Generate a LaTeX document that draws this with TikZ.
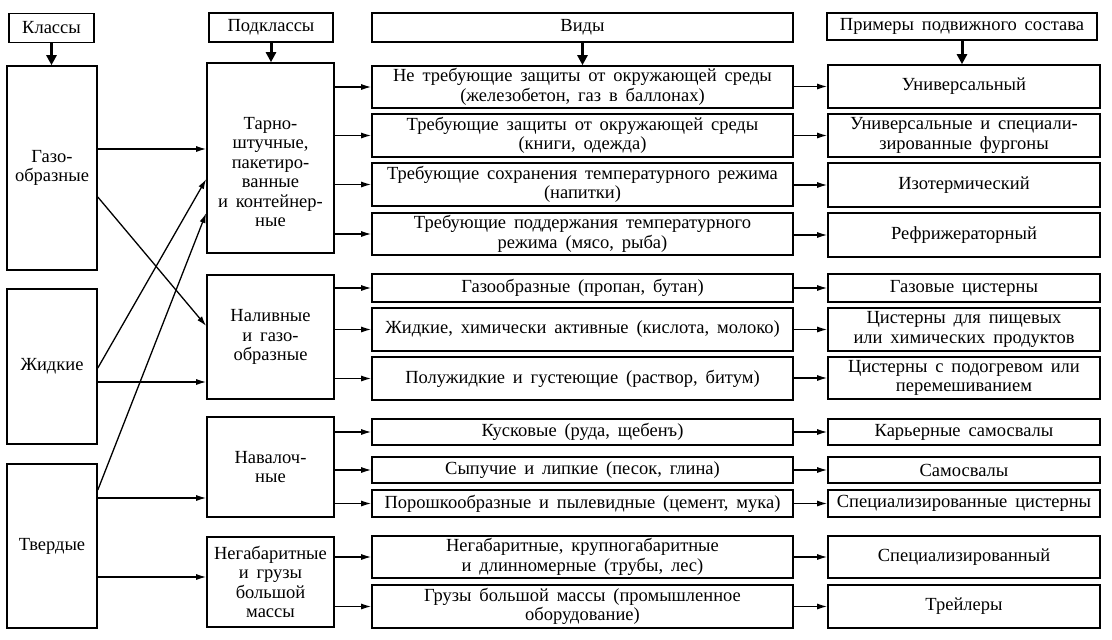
\documentclass[tikz,border=0pt]{standalone}
\usepackage{fontspec}
\setmainfont{Liberation Serif}[WordSpace=1.7]
\usetikzlibrary{arrows.meta}
\begin{document}
\begin{tikzpicture}[x=1pt,y=-1pt,
  font=\fontsize{18.5}{19.5}\selectfont,
  box/.style={draw,line width=1.6pt,inner sep=0pt,align=center},
  cls/.style={box,minimum width=90pt},
  sub/.style={box,minimum width=127pt},
  vid/.style={box,minimum width=421pt},
  ex/.style={box,minimum width=272pt},
  hdr/.style={box,minimum height=29pt},
  arr/.style={line width=1.3pt,-{Latex[length=10pt,width=6pt]}},
  harr/.style={line width=3pt,-{Triangle[length=10pt,width=10pt]}},
  txt/.style={inner sep=0pt,align=center}]
\useasboundingbox (0,0) rectangle (1112,640);
% headers
\node[hdr,minimum width=85pt] (hk) at (51.5,28) {Классы};
\node[hdr,minimum width=124pt] (hp) at (271,27.5) {Подклассы};
\node[hdr,minimum width=421pt] (hv) at (582.5,27.5) {Виды};
\node[hdr,minimum width=270pt,minimum height=27pt] (he) at (962,26.5) {Примеры подвижного состава};
% classes
\node[cls,minimum height=204pt] (gaz) at (52,168) {Газо-\\образные};
\node[cls,minimum height=155pt] (zhid) at (52,366.5) {Жидкие};
\node[cls,minimum height=164pt] (tverd) at (52,546) {Твердые};
% subclasses
\node[sub,minimum height=190pt] (tarno) at (270.5,158) {};
\node[txt] (tarnoT) at (270.5,172) {Тарно-\\штучные,\\пакетиро-\\ванные\\и контейнер-\\ные};
\node[sub,minimum height=124pt] (naliv) at (270.5,337) {Наливные\\и газо-\\образные};
\node[sub,minimum height=100pt] (naval) at (270.5,467) {Навалоч-\\ные};
\node[sub,minimum height=90pt] (negab) at (270.5,582) {Негабаритные\\и грузы\\большой\\массы};
% kinds
\node[vid,minimum height=42pt] (v1) at (582.5,87) {Не требующие защиты от окружающей среды\\(железобетон, газ в баллонах)};
\node[vid,minimum height=43pt] (v2) at (582.5,135.5) {Требующие защиты от окружающей среды\\(книги, одежда)};
\node[vid,minimum height=43pt] (v3) at (582.5,184.5) {Требующие сохранения температурного режима\\(напитки)};
\node[vid,minimum height=42pt] (v4) at (582.5,234) {Требующие поддержания температурного\\режима (мясо, рыба)};
\node[vid,minimum height=28pt] (v5) at (582.5,288) {Газообразные (пропан, бутан)};
\node[vid,minimum height=43pt] (v6) at (582.5,329.5) {Жидкие, химически активные (кислота, молоко)};
\node[vid,minimum height=43pt] (v7) at (582.5,378.5) {Полужидкие и густеющие (раствор, битум)};
\node[vid,minimum height=26pt] (v8) at (582.5,432) {Кусковые (руда, щебенъ)};
\node[vid,minimum height=26pt] (v9) at (582.5,470) {Сыпучие и липкие (песок, глина)};
\node[vid,minimum height=27pt] (v10) at (582.5,503.5) {Порошкообразные и пылевидные (цемент, мука)};
\node[vid,minimum height=42pt] (v11) at (582.5,557) {Негабаритные, крупногабаритные\\и длинномерные (трубы, лес)};
\node[vid,minimum height=43pt] (v12) at (582.5,606.5) {Грузы большой массы (промышленное\\оборудование)};
% examples
\node[ex,minimum height=43pt] (e1) at (964,86.5) {Универсальный};
\node[ex,minimum height=43pt] (e2) at (964,135.5) {Универсальные и специали-\\зированные фургоны};
\node[ex,minimum height=44pt] (e3) at (964,185) {Изотермический};
\node[ex,minimum height=44pt] (e4) at (964,235) {Рефрижераторный};
\node[ex,minimum height=28pt] (e5) at (964,288) {Газовые цистерны};
\node[ex,minimum height=43pt] (e6) at (964,329.5) {Цистерны для пищевых\\или химических продуктов};
\node[ex,minimum height=42pt] (e7) at (964,378) {Цистерны с подогревом или\\перемешиванием};
\node[ex,minimum height=26pt] (e8) at (964,432) {Карьерные самосвалы};
\node[ex,minimum height=26pt] (e9) at (964,470) {Самосвалы};
\node[ex,minimum height=27pt] (e10) at (964,503.5) {Специализированные цистерны};
\node[ex,minimum height=42pt] (e11) at (964,557) {Специализированный};
\node[ex,minimum height=43pt] (e12) at (964,606.5) {Трейлеры};
% header arrows
\draw[harr] (hk.south) -- (hk.south |- gaz.north);
\draw[harr] (hp.south) -- (hp.south |- tarno.north);
\draw[harr] (hv.south) -- (hv.south |- v1.north);
\draw[harr] (he.south) -- (he.south |- e1.north);
% class -> subclass
\draw[arr] (gaz.east |- 0,149) -- (tarno.west |- 0,149);
\draw[arr] (gaz.east |- 0,197) -- (naliv.west |- 0,326);
\draw[arr] (zhid.east |- 0,368) -- (tarno.west |- 0,179);
\draw[arr] (zhid.east |- 0,382) -- (naliv.west |- 0,382);
\draw[arr] (tverd.east |- 0,490) -- (tarno.west |- 0,213);
\draw[arr] (tverd.east |- 0,498) -- (naval.west |- 0,498);
\draw[arr] (tverd.east |- 0,577) -- (negab.west |- 0,577);
% subclass -> kinds
\foreach \s/\v in {tarno/v1,tarno/v2,tarno/v3,tarno/v4,naliv/v5,naliv/v6,naliv/v7,naval/v8,naval/v9,naval/v10,negab/v11,negab/v12}
  \draw[arr] (\s.east |- \v.west) -- (\v.west);
% kinds -> examples
\foreach \v/\e in {v1/e1,v2/e2,v3/e3,v4/e4,v5/e5,v6/e6,v7/e7,v8/e8,v9/e9,v10/e10,v11/e11,v12/e12}
  \draw[arr] (\v.east |- \e.west) -- (\e.west);
\end{tikzpicture}
\end{document}
